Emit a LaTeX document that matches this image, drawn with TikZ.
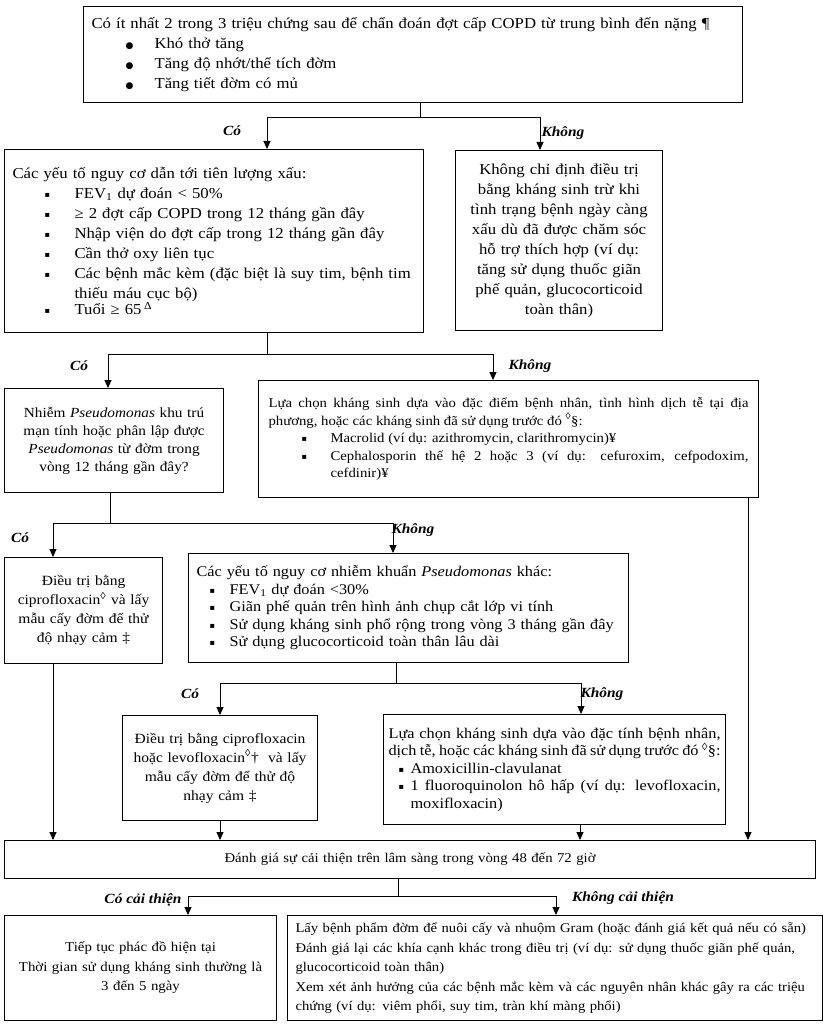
\documentclass[tikz,border=0pt]{standalone}
\usepackage{fontspec}
\setmainfont{Liberation Serif}[FakeStretch=1.1]
\newfontfamily\symf{DejaVu Sans}
\usetikzlibrary{arrows.meta}
\hyphenpenalty=10000
\exhyphenpenalty=10000
\newcommand{\fsA}{\fontsize{15.2}{20}\selectfont}
\newcommand{\fsB}{\fontsize{14.1}{19}\selectfont}
\newcommand{\fsC}{\fontsize{14.8}{17.5}\selectfont}
\newcommand{\fsH}{\fontsize{13.4}{17.5}\selectfont}
\newcommand{\fsD}{\fontsize{13.9}{18}\selectfont}
\newcommand{\fsE}{\fontsize{13.4}{15}\selectfont}
\newcommand{\fsF}{\fontsize{13.5}{19.5}\selectfont}
\newcommand{\fsG}{\fontsize{13.3}{19.5}\selectfont}
\newcommand{\dotb}{{\symf\fontsize{9}{9}\selectfont ●}}
\newcommand{\sqb}{\raisebox{1pt}{\symf\fontsize{8}{8}\selectfont ▪}}
\newcommand{\itm}[4]{\par\noindent\makebox[#2][l]{\hspace*{#1}#3}\parbox[t]{\dimexpr\hsize-#2\relax}{#4}}
\tikzset{
  box/.style={draw, line width=1.1pt, anchor=north west, inner xsep=8pt, inner ysep=2pt},
  ln/.style={line width=1pt},
  arr/.style={line width=1pt, -{Triangle[length=8pt,width=7pt]}},
  lbl/.style={font=\fontsize{14}{15}\selectfont\bfseries\itshape}
}
\begin{document}
\begin{tikzpicture}[x=1pt,y=-1pt]
\useasboundingbox (0,0) rectangle (826,1024);
\fill[white] (0,0) rectangle (826,1024);

% boxes
\node[box, font=\fsA, text width=643pt, minimum height=96pt, align=left] (b1) at (83,6) {Có ít nhất 2 trong 3 triệu chứng sau để chẩn đoán đợt cấp COPD từ trung bình đến nặng ¶
\itm{34pt}{63pt}{\dotb}{Khó thở tăng}
\itm{34pt}{63pt}{\dotb}{Tăng độ nhớt/thể tích đờm}
\itm{34pt}{63pt}{\dotb}{Tăng tiết đờm có mủ}};

\node[box, font=\fsA, text width=403pt, minimum height=183pt, align=left] (b2) at (4,149) {Các yếu tố nguy cơ dẫn tới tiên lượng xấu:
\itm{32pt}{62pt}{\sqb}{FEV\textsubscript{1} dự đoán < 50\%}
\itm{32pt}{62pt}{\sqb}{≥ 2 đợt cấp COPD trong 12 tháng gần đây}
\itm{32pt}{62pt}{\sqb}{Nhập viện do đợt cấp trong 12 tháng gần đây}
\itm{32pt}{62pt}{\sqb}{Cần thở oxy liên tục}
\itm{32pt}{62pt}{\sqb}{Các bệnh mắc kèm (đặc biệt là suy tim, bệnh tim\newline thiếu máu cục bộ)}
\itm{32pt}{62pt}{\sqb}{Tuổi ≥ 65\,\textsuperscript{Δ}}};

\node[box, font=\fsA, text width=191pt, minimum height=180pt, align=center, inner xsep=8pt] (b3) at (455,150) {Không chỉ định điều trị\\ bằng kháng sinh trừ khi\\ tình trạng bệnh ngày càng\\ xấu dù đã được chăm sóc\\ hỗ trợ thích hợp (ví dụ:\\ tăng sử dụng thuốc giãn\\ phế quản, glucocorticoid\\ toàn thân)};

\node[box, font=\fsD, text width=203pt, minimum height=104pt, align=center] (b4) at (4,388) {Nhiễm \textit{Pseudomonas} khu trú\\ mạn tính hoặc phân lập được\\ \textit{Pseudomonas} từ đờm trong\\ vòng 12 tháng gần đây?};

\node[box, font=\fsH, text width=480pt, minimum height=117pt, align=justify, inner xsep=10pt] (b5) at (258,380) {Lựa chọn kháng sinh dựa vào đặc điểm bệnh nhân, tình hình dịch tễ tại địa\linebreak phương, hoặc các kháng sinh đã sử dụng trước đó \textsuperscript{◊}§:
\itm{33pt}{62pt}{\sqb}{Macrolid (ví dụ: azithromycin, clarithromycin)¥}
\itm{33pt}{62pt}{\sqb}{Cephalosporin thế hệ 2 hoặc 3 (ví dụ: cefuroxim, cefpodoxim,\linebreak cefdinir)¥}\par\vspace*{-12pt}};

\node[box, font=\fsB, text width=142pt, minimum height=106pt, align=center] (b6) at (4,557) {Điều trị bằng\\ ciprofloxacin\textsuperscript{◊} và lấy\\ mẫu cấy đờm để thử\\ độ nhạy cảm ‡};

\node[box, font=\fsC, text width=424pt, minimum height=109pt, align=left] (b7) at (188,553) {Các yếu tố nguy cơ nhiễm khuẩn \textit{Pseudomonas} khác:
\itm{13pt}{33pt}{\sqb}{FEV\textsubscript{1} dự đoán <30\%}
\itm{13pt}{33pt}{\sqb}{Giãn phế quản trên hình ảnh chụp cắt lớp vi tính}
\itm{13pt}{33pt}{\sqb}{Sử dụng kháng sinh phổ rộng trong vòng 3 tháng gần đây}
\itm{13pt}{33pt}{\sqb}{Sử dụng glucocorticoid toàn thân lâu dài}};

\node[box, font=\fsB, text width=179pt, minimum height=105pt, align=center] (b8) at (122,715) {Điều trị bằng ciprofloxacin\\ hoặc levofloxacin\textsuperscript{◊}†~ và lấy\\ mẫu cấy đờm để thử độ\\ nhạy cảm ‡};

\node[box, font=\fsC, text width=332pt, minimum height=110pt, align=justify, inner xsep=5pt] (b9) at (383,714) {Lựa chọn kháng sinh dựa vào đặc tính bệnh nhân,\linebreak dịch tễ, hoặc các kháng sinh đã sử dụng trước đó \textsuperscript{◊}§:
\itm{10pt}{22pt}{\sqb}{Amoxicillin-clavulanat}
\itm{10pt}{22pt}{\sqb}{1 fluoroquinolon hô hấp (ví dụ: levofloxacin,\linebreak moxifloxacin)}};

\node[box, font=\fsE, text width=795pt, minimum height=38pt, align=center] (b10) at (4,840) {Đánh giá sự cải thiện trên lâm sàng trong vòng 48 đến 72 giờ};

\node[box, font=\fsF, text width=256pt, minimum height=105pt, align=center] (b11) at (4,915) {Tiếp tục phác đồ hiện tại\\ Thời gian sử dụng kháng sinh thường là\\ 3 đến 5 ngày};

\node[box, font=\fsG, text width=519pt, minimum height=105pt, align=left] (b12) at (287,915) {Lấy bệnh phẩm đờm để nuôi cấy và nhuộm Gram (hoặc đánh giá kết quả nếu có sẵn)\\ Đánh giá lại các khía cạnh khác trong điều trị (ví dụ: sử dụng thuốc giãn phế quản,\\ glucocorticoid toàn thân)\\ Xem xét ảnh hưởng của các bệnh mắc kèm và các nguyên nhân khác gây ra các triệu\\ chứng (ví dụ: viêm phổi, suy tim, tràn khí màng phổi)};

% labels
\node[lbl] (l1) at (232,131) {Có};
\node[lbl] (l2) at (563,133) {Không};
\node[lbl] (l3) at (79,366) {Có};
\node[lbl] (l4) at (530,366) {Không};
\node[lbl] (l5) at (20,538) {Có};
\node[lbl] (l6) at (413,530) {Không};
\node[lbl] (l7) at (190,694) {Có};
\node[lbl] (l8) at (602,694) {Không};
\node[lbl] (l9) at (143,900) {Có cải thiện};
\node[lbl] (l10) at (623,898) {Không cải thiện};

% connectors
\coordinate (j1) at (420,118); \coordinate (j1l) at (267,118); \coordinate (j1r) at (540,118);
\draw[ln] (b1.south -| j1) -- (j1);
\draw[arr] (j1) -- (j1l) -- (j1l |- b2.north);
\draw[arr] (j1) -- (j1r) -- (j1r |- b3.north);

\coordinate (j2) at (267,354); \coordinate (j2l) at (108,354); \coordinate (j2r) at (493,354);
\draw[ln] (b2.south -| j2) -- (j2);
\draw[arr] (j2) -- (j2l) -- (j2l |- b4.north);
\draw[arr] (j2) -- (j2r) -- (j2r |- b5.north);

\coordinate (j3) at (110,523); \coordinate (j3l) at (53,523); \coordinate (j3r) at (393,523);
\draw[ln] (b4.south -| j3) -- (j3);
\draw[arr] (j3) -- (j3l) -- (j3l |- b6.north);
\draw[arr] (j3) -- (j3r) -- (j3r |- b7.north);

\coordinate (j4) at (396,683); \coordinate (j4l) at (220,683); \coordinate (j4r) at (581,683);
\draw[ln] (b7.south -| j4) -- (j4);
\draw[arr] (j4) -- (j4l) -- (j4l |- b8.north);
\draw[arr] (j4) -- (j4r) -- (j4r |- b9.north);

\coordinate (c6) at (53,0); \coordinate (c8) at (220,0); \coordinate (c9) at (580,0); \coordinate (c5) at (748,0);
\draw[arr] (b6.south -| c6) -- (b10.north -| c6);
\draw[arr] (b8.south -| c8) -- (b10.north -| c8);
\draw[arr] (b9.south -| c9) -- (b10.north -| c9);
\draw[arr] (b5.south -| c5) -- (b10.north -| c5);

\coordinate (j5) at (398,896); \coordinate (j5l) at (188,896); \coordinate (j5r) at (556,896);
\draw[ln] (b10.south -| j5) -- (j5);
\draw[arr] (j5) -- (j5l) -- (j5l |- b11.north);
\draw[arr] (j5) -- (j5r) -- (j5r |- b12.north);
\end{tikzpicture}
\end{document}
